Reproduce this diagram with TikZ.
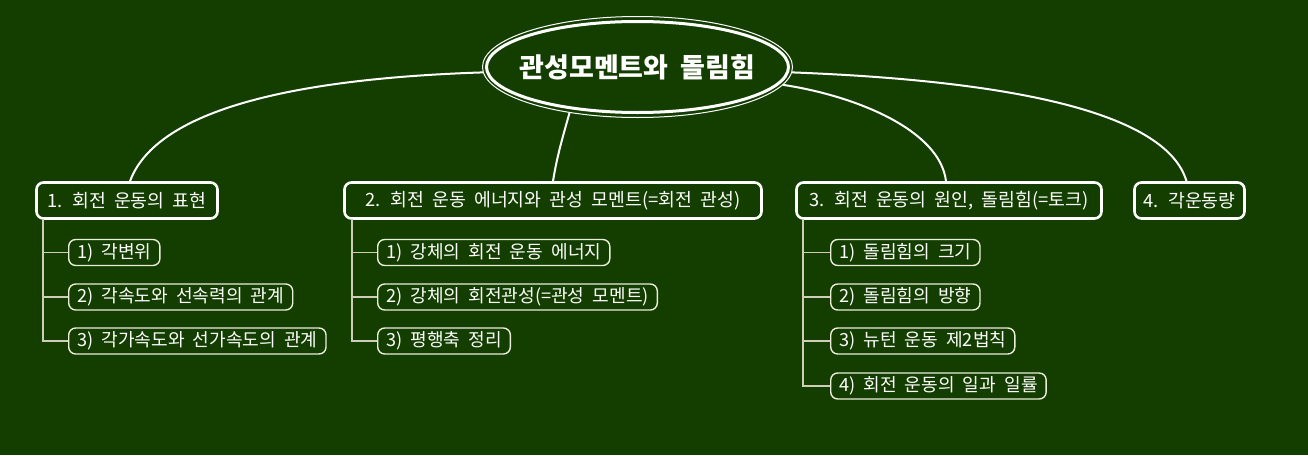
\documentclass[tikz,border=0pt]{standalone}
\usepackage{fontspec}
\setmainfont[WordSpace=2.0]{Noto Sans CJK KR}
\usetikzlibrary{shapes.geometric,calc}
\definecolor{bg}{RGB}{19,62,0}
\definecolor{kid}{RGB}{236,236,220}
\definecolor{stem}{RGB}{205,205,185}
\tikzset{
  topbox/.style={draw=white, line width=2.6pt, rounded corners=7pt, text=white,
    minimum height=36pt, inner xsep=6pt,
    font=\fontsize{18.3pt}{20pt}\selectfont},
  kidbox/.style={draw=kid, line width=1.4pt, rounded corners=7pt, text=white,
    minimum height=26pt, inner xsep=8.5pt, inner ysep=1pt, anchor=west,
    font=\fontsize{18.1pt}{19pt}\selectfont},
  curve/.style={draw=white, line width=2pt},
  stemline/.style={draw=stem, line width=1.5pt}
}
\begin{document}
\begin{tikzpicture}[x=1pt,y=-1pt]
\fill[bg] (0,0) rectangle (1308,455);
\useasboundingbox (0,0) rectangle (1308,455);
% title
\node[ellipse, draw=white, line width=1pt, minimum width=310pt, minimum height=101pt, inner sep=0pt] (tout) at (637.5,67) {};
\node[ellipse, draw=white, line width=3pt, minimum width=302pt, minimum height=91pt, inner sep=0pt] (title) at (637.5,67) {};
\node[text=white, inner sep=0pt, font=\fontsize{27pt}{29pt}\selectfont\bfseries] (ttext) at (title.center) {관성모멘트와 돌림힘};
% top-level boxes
\node[topbox, minimum width=181pt] (b1) at (127,200.5) {1. 회전 운동의 표현};
\node[topbox, minimum width=417pt] (b2) at (553,200.5) {2. 회전 운동 에너지와 관성 모멘트(=회전 관성)};
\node[topbox, minimum width=305pt] (b3) at (949,200.5) {3. 회전 운동의 원인, 돌림힘(=토크)};
\node[topbox, minimum width=110pt] (b4) at (1189.5,200.5) {4. 각운동량};
% curves
\draw[curve] (tout.182) .. controls +(-153,5) and +(30,-81) .. ([xshift=3pt]b1.north);
\draw[curve] (tout.214) .. controls +(-7,25) and +(4,-25) .. (b2.north);
\draw[curve] (tout.353) .. controls +(73,11) and +(-6,-51) .. ([xshift=-3pt]b3.north);
\draw[curve] (tout.358) .. controls +(210,8) and +(-21,-71) .. ([xshift=-3pt]b4.north);
% children of 1
\node[kidbox] (c11) at (68,252.5) {1) 각변위};
\node[kidbox] (c12) at (68,297) {2) 각속도와 선속력의 관계};
\node[kidbox] (c13) at (68,341) {3) 각가속도와 선가속도의 관계};
% children of 2
\node[kidbox] (c21) at (377,252.5) {1) 강체의 회전 운동 에너지};
\node[kidbox] (c22) at (377,297) {2) 강체의 회전관성(=관성 모멘트)};
\node[kidbox] (c23) at (377,341) {3) 평행축 정리};
% children of 3
\node[kidbox] (c31) at (830,252.5) {1) 돌림힘의 크기};
\node[kidbox] (c32) at (830,297) {2) 돌림힘의 방향};
\node[kidbox] (c33) at (830,341) {3) 뉴턴 운동 제2법칙};
\node[kidbox] (c34) at (830,386) {4) 회전 운동의 일과 일률};
% stems
\foreach \c in {c11,c12,c13}{\draw[stemline] ($(b1.south west)+(8,-1)$) |- (\c.west);}
\foreach \c in {c21,c22,c23}{\draw[stemline] ($(b2.south west)+(9,-1)$) |- (\c.west);}
\foreach \c in {c31,c32,c33,c34}{\draw[stemline] ($(b3.south west)+(8,-1)$) |- (\c.west);}
\end{tikzpicture}
\end{document}
